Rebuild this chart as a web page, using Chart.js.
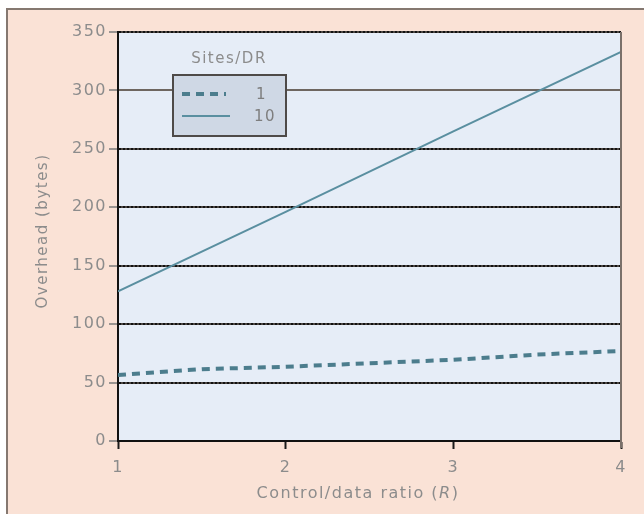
<!DOCTYPE html>
<html>
<head>
<meta charset="utf-8">
<script src="https://cdn.jsdelivr.net/npm/chart.js@4/dist/chart.umd.min.js"></script>
<style>
  html, body { margin: 0; padding: 0; background: #ffffff; }
  #wrap { width: 644px; height: 514px; }
</style>
</head>
<body>
<div id="wrap"><canvas id="chart" width="644" height="514"></canvas></div>
<script>
// Control/data ratio (R) on the x axis
const ratioOneSite = [1, 1.5, 2, 2.5, 3, 3.5, 4];
const overheadOneSite = [56.5, 61.5, 63.5, 66.5, 69.5, 74, 77];
const ratioTenSites = [1, 2, 3, 4];
const overheadTenSites = [128, 196, 265, 333];

const seriesNames = ['1', '10'];
const legendTitle = 'Sites/DR';
const xTicks = [1, 2, 3, 4];
const yTicks = [0, 50, 100, 150, 200, 250, 300, 350];
const yTitle = 'Overhead (bytes)';
const xTitleParts = ['Control/data ratio (', 'R', ')'];

const LABEL = '#8c8c8c';
const FONT = 'DejaVu Sans';
const SPACING = '1.5px';

const toPoints = (xs, ys) => xs.map((x, i) => ({ x: x, y: ys[i] }));

const decor = {
  id: 'decor',
  beforeDraw(chart) {
    const { ctx, chartArea: a, width: w, height: h } = chart;
    const ys = chart.scales.y;
    ctx.save();
    ctx.fillStyle = '#ffffff';
    ctx.fillRect(0, 0, w, h);
    ctx.fillStyle = '#fae2d6';
    ctx.fillRect(7, 9, w - 7, h - 9);
    ctx.strokeStyle = '#857870';
    ctx.lineWidth = 2;
    ctx.beginPath();
    ctx.moveTo(7, h);
    ctx.lineTo(7, 9);
    ctx.lineTo(w, 9);
    ctx.stroke();
    // plot panel
    ctx.fillStyle = '#e6edf7';
    ctx.fillRect(a.left, a.top, a.right - a.left, a.bottom - a.top);
    // solid grey under every horizontal rule
    ctx.lineWidth = 2;
    yTicks.forEach(v => {
      const py = Math.round(ys.getPixelForValue(v));
      ctx.strokeStyle = v === 300 ? '#6e6660' : '#4c4642';
      ctx.beginPath();
      ctx.moveTo(a.left, py);
      ctx.lineTo(a.right, py);
      ctx.stroke();
    });
    ctx.restore();
    // tick labels are drawn with a little tracking
    ctx.letterSpacing = SPACING;
  },
  afterDraw(chart) {
    const { ctx, chartArea: a } = chart;
    const ds = chart.data.datasets;
    ctx.save();
    ctx.letterSpacing = SPACING;
    // right edge of the panel
    ctx.strokeStyle = '#7a706a';
    ctx.lineWidth = 2;
    ctx.beginPath();
    ctx.moveTo(a.right, a.top);
    ctx.lineTo(a.right, a.bottom + 7);
    ctx.stroke();

    // legend
    ctx.fillStyle = LABEL;
    ctx.font = '15px "' + FONT + '"';
    ctx.textAlign = 'center';
    ctx.textBaseline = 'middle';
    ctx.fillText(legendTitle, 229, 59);

    ctx.fillStyle = '#cfd8e5';
    ctx.fillRect(173, 75, 113, 61);
    ctx.strokeStyle = '#4e4a48';
    ctx.lineWidth = 2;
    ctx.strokeRect(173, 75, 113, 61);

    const rows = [94, 116];
    const sampleEnd = [226, 230];
    ds.forEach((d, i) => {
      ctx.strokeStyle = d.borderColor;
      ctx.lineWidth = d.borderWidth;
      ctx.setLineDash(d.borderDash || []);
      ctx.beginPath();
      ctx.moveTo(182, rows[i]);
      ctx.lineTo(sampleEnd[i], rows[i]);
      ctx.stroke();
      ctx.setLineDash([]);
      ctx.fillStyle = '#7e7e7e';
      ctx.textAlign = 'left';
      ctx.fillText(d.label, i === 0 ? 256 : 254, rows[i] + 1);
    });

    // axis titles
    ctx.fillStyle = LABEL;
    ctx.textBaseline = 'middle';
    ctx.save();
    ctx.translate(43, 231);
    ctx.rotate(-Math.PI / 2);
    ctx.textAlign = 'center';
    ctx.font = '15px "' + FONT + '"';
    ctx.fillText(yTitle, 0, 0);
    ctx.restore();

    ctx.letterSpacing = '1.5px';
    const fonts = ['16px "' + FONT + '"', 'oblique 16px "' + FONT + '"', '16px "' + FONT + '"'];
    let total = 0;
    const widths = xTitleParts.map((t, i) => { ctx.font = fonts[i]; const m = ctx.measureText(t).width; total += m; return m; });
    let x = 358 - total / 2;
    ctx.textAlign = 'left';
    xTitleParts.forEach((t, i) => { ctx.font = fonts[i]; ctx.fillText(t, x, 494); x += widths[i]; });
    ctx.restore();
  }
};

new Chart(document.getElementById('chart'), {
  type: 'line',
  data: {
    datasets: [
      {
        label: seriesNames[0],
        data: toPoints(ratioOneSite, overheadOneSite),
        borderColor: '#4c7d8d',
        borderWidth: 4,
        borderDash: [8, 6],
        pointRadius: 0,
        tension: 0,
        fill: false
      },
      {
        label: seriesNames[1],
        data: toPoints(ratioTenSites, overheadTenSites),
        borderColor: '#5a8fa0',
        borderWidth: 2,
        pointRadius: 0,
        tension: 0,
        fill: false
      }
    ]
  },
  options: {
    responsive: false,
    animation: false,
    devicePixelRatio: 1,
    layout: { padding: { left: 0, top: 32, right: 23, bottom: 0 } },
    plugins: { legend: { display: false }, tooltip: { enabled: false } },
    scales: {
      x: {
        type: 'linear',
        min: 1,
        max: 4,
        afterBuildTicks: s => { s.ticks = xTicks.map(v => ({ value: v })); },
        afterFit: s => { s.height = 73; },
        ticks: { color: LABEL, font: { family: FONT, size: 16 }, padding: 9 },
        grid: { drawOnChartArea: false, drawTicks: true, tickLength: 8, tickColor: '#1a1a1a', tickWidth: 2 },
        border: { display: true, color: '#111111', width: 2, dash: [2, 2] }
      },
      y: {
        min: 0,
        max: 350,
        afterBuildTicks: s => { s.ticks = yTicks.map(v => ({ value: v })); },
        afterFit: s => { s.width = 118; },
        ticks: { color: LABEL, font: { family: FONT, size: 16 }, padding: 2 },
        grid: {
          color: c => (c.tick && c.tick.value === 300) ? 'rgba(0,0,0,0)' : '#111111',
          lineWidth: 2,
          tickLength: 9,
          tickColor: '#7a7a7a',
          tickWidth: 1.5
        },
        border: { display: true, color: '#111111', width: 2, dash: [2, 2] }
      }
    }
  },
  plugins: [decor]
});
</script>
</body>
</html>
